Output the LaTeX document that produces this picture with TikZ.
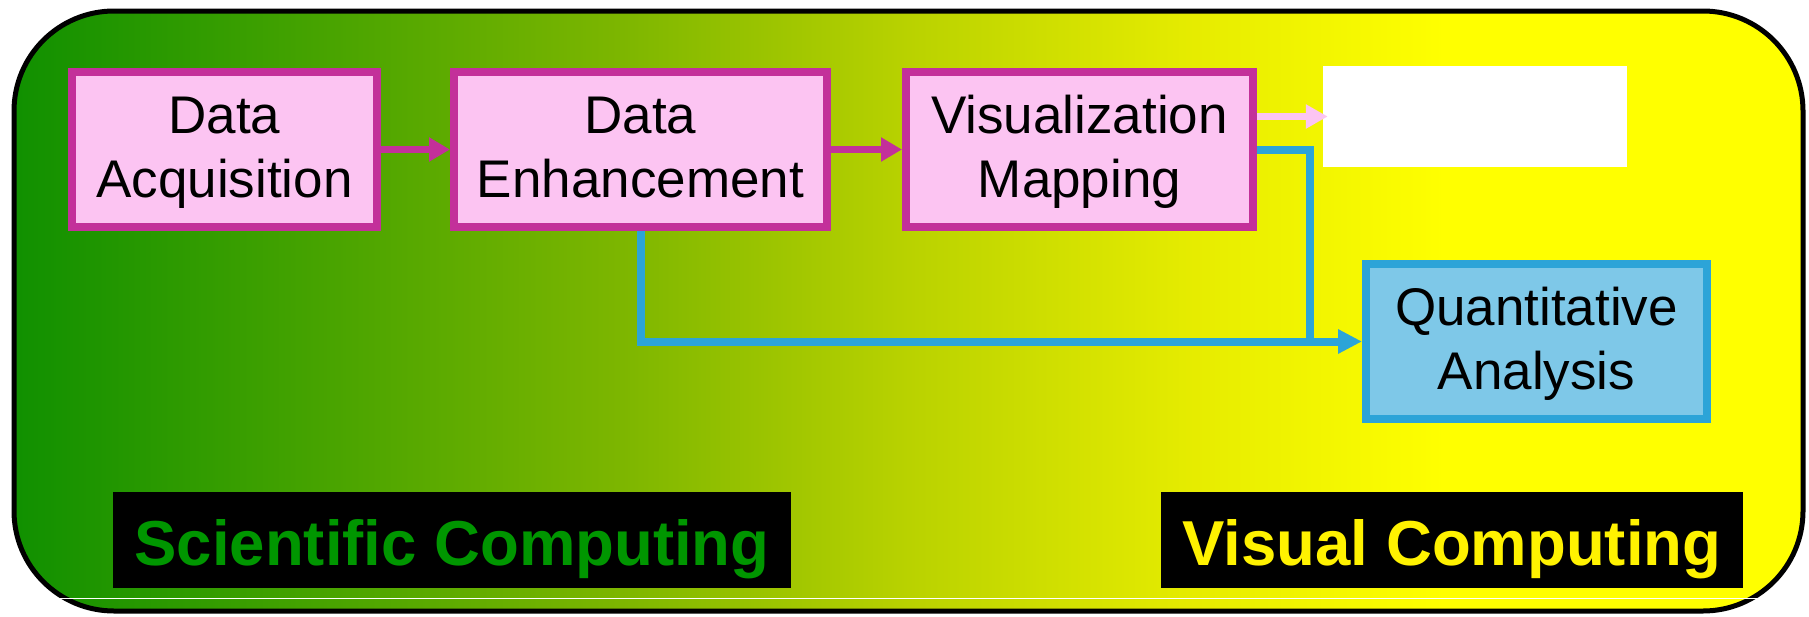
\documentclass[tikz,border=0pt]{standalone}
\usepackage{fontspec}
\setmainfont{Liberation Sans}
\usetikzlibrary{arrows.meta,calc}
\definecolor{pinkline}{RGB}{195,48,154}
\definecolor{pinkfill}{RGB}{252,196,242}
\definecolor{blueline}{RGB}{44,164,216}
\definecolor{bluefill}{RGB}{126,200,232}
\definecolor{sciGreen}{RGB}{0,150,0}
\definecolor{bgA}{RGB}{16,144,0}
\definecolor{bgB}{RGB}{125,182,0}
\definecolor{bgC}{RGB}{185,210,0}
\definecolor{bgD}{RGB}{230,236,0}
\definecolor{bgE}{RGB}{255,255,0}
\pgfdeclarehorizontalshading{bgshade}{100bp}{color(0bp)=(bgA); color(25bp)=(bgA); color(42bp)=(bgB); color(50bp)=(bgC); color(58bp)=(bgD); color(65bp)=(bgE); color(100bp)=(bgE)}
\tikzset{
  proc/.style={draw=pinkline, fill=pinkfill, line width=8pt, minimum height=155pt,
    align=center, inner sep=0pt, text height=104pt, text depth=9pt,
    font=\fontsize{53}{64}\selectfont},
  quant/.style={proc, draw=blueline, fill=bluefill},
  tag/.style={fill=black, minimum height=96pt, inner sep=0pt, text height=70pt, text depth=20pt,
    font=\fontsize{63.5}{70}\selectfont\bfseries},
  magarrow/.style={draw=pinkline, line width=7.5pt, -{Triangle[length=21pt,width=23pt]}},
  lightarrow/.style={draw=pinkfill, line width=7pt, -{Triangle[length=22pt,width=23pt]}},
  bluearrow/.style={draw=blueline, line width=8pt, -{Triangle[length=24pt,width=23pt]}},
  blueconn/.style={draw=blueline, line width=8pt},
}
\begin{document}
\begin{tikzpicture}[x=1pt,y=-1pt]
\useasboundingbox (0,0) rectangle (1809,616);
\shadedraw[shading=bgshade, draw=black, line width=5pt, rounded corners=100pt] (14,11) rectangle (1803,611);
\draw[white, line width=1pt] (60,598) -- (1775,598);
\node[proc, minimum width=305pt] (DA) at (224.5,149.5) {Data\\Acquisition};
\node[proc, minimum width=373pt] (DE) at (640.5,149.5) {Data\\Enhancement};
\node[proc, minimum width=347pt] (VM) at (1079.5,149.5) {Visualization\\Mapping};
\node[fill=white, minimum width=304pt, minimum height=101pt, inner sep=0pt] (W) at (1475,116.5) {};
\node[quant, minimum width=341pt] (QA) at (1536.5,341.5) {Quantitative\\Analysis};
\node[tag, text=sciGreen, minimum width=678pt] (SC) at (452,540) {Scientific Computing};
\node[tag, text=yellow, minimum width=582pt] (VC) at (1452,540) {Visual Computing};
\coordinate (J) at (1309.5,341.5);
\draw[magarrow] (DA.east) -- (DE.west);
\draw[magarrow] (DE.east) -- (VM.west);
\draw[lightarrow, shorten >=-5pt] (VM.east |- W.west) -- (W.west);
\draw[blueconn] (VM.east) -| (J);
\draw[bluearrow] (DE.south) |- (QA.west);
\end{tikzpicture}
\end{document}
